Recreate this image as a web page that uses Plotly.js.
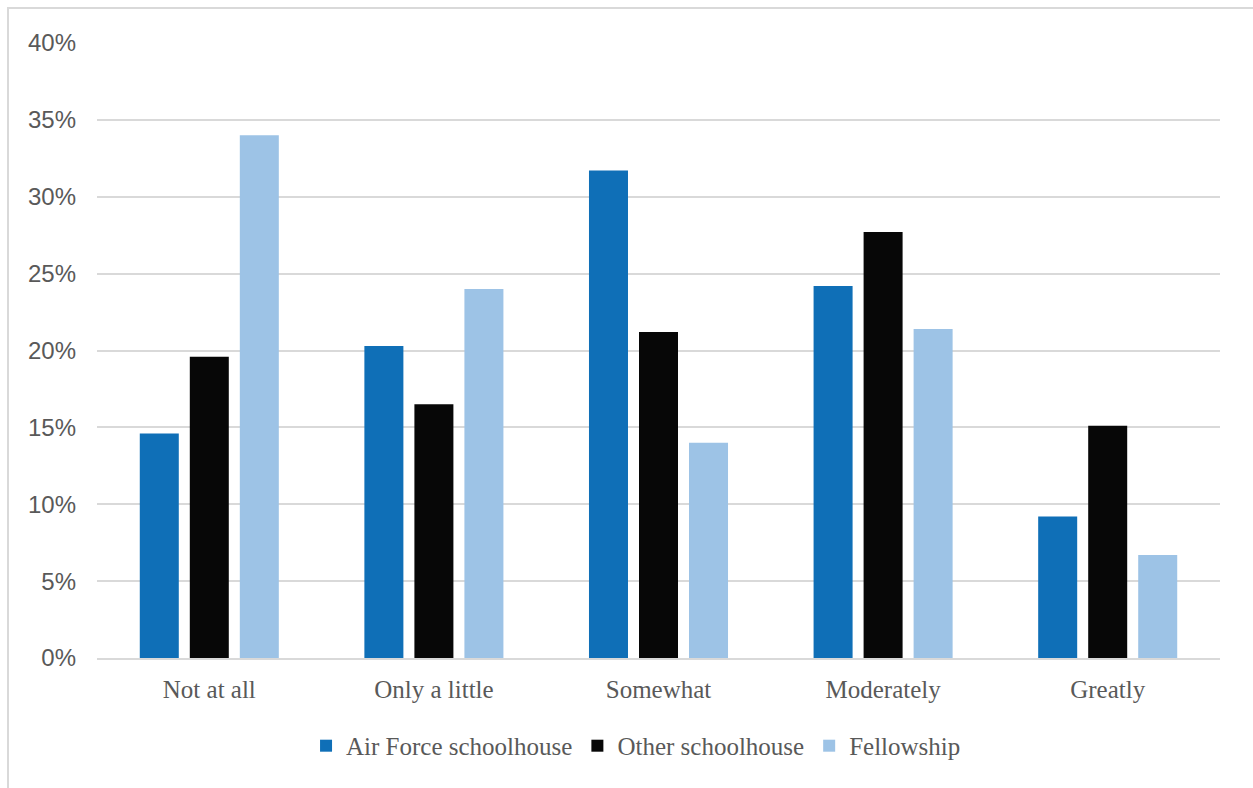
<!DOCTYPE html>
<html>
<head>
<meta charset="utf-8">
<script src="https://cdn.plot.ly/plotly-3.0.1.min.js"></script>
<style>
  html, body { margin: 0; padding: 0; background: #ffffff; }
  #chart { position: absolute; left: 0; top: 0; width: 1253px; height: 788px; }
  #frame { position: absolute; left: 7px; top: 7px; width: 1260px; height: 800px;
           border-left: 2px solid #d9d9d9; border-top: 2px solid #d9d9d9; pointer-events: none; }
</style>
</head>
<body>
<div id="chart"></div>
<div id="frame"></div>
<script>
// Response categories along the x axis
const categories = ["Not at all", "Only a little", "Somewhat", "Moderately", "Greatly"];

// Share of respondents per category (percent)
const airForceSchoolhouse = [14.6, 20.3, 31.7, 24.2, 9.2];
const otherSchoolhouse    = [19.6, 16.5, 21.2, 27.7, 15.1];
const fellowship          = [34.0, 24.0, 14.0, 21.4, 6.7];

const seriesNames = ["Air Force schoolhouse", "Other schoolhouse", "Fellowship"];
const seriesColors = ["#0f6fb7", "#070707", "#9dc3e6"];

// Y axis ticks
const yTickVals = [0, 5, 10, 15, 20, 25, 30, 35, 40];
const yTickText = yTickVals.map(v => v + "%");

const seriesValues = [airForceSchoolhouse, otherSchoolhouse, fellowship];
const traces = seriesValues.map((vals, i) => ({
  type: "bar",
  name: seriesNames[i],
  x: categories,
  y: vals,
  marker: { color: seriesColors[i] },
  hoverinfo: "x+y+name"
}));

const serif = "'Liberation Serif', 'Times New Roman', serif";
const sans = "'Liberation Sans', Arial, sans-serif";

const layout = {
  width: 1253,
  height: 788,
  margin: { l: 97, r: 33, t: 43, b: 130 },
  paper_bgcolor: "#ffffff",
  plot_bgcolor: "#ffffff",
  barmode: "group",
  bargap: 0.332,
  bargroupgap: 0.22,
  showlegend: true,
  legend: {
    orientation: "h",
    x: 0.48, xanchor: "center",
    y: -0.143, yanchor: "middle",
    font: { family: serif, size: 25, color: "#595959" },
    traceorder: "normal"
  },
  xaxis: {
    type: "category",
    showgrid: false,
    showline: true,
    linecolor: "#d9d9d9",
    linewidth: 2,
    ticks: "",
    ticklabelstandoff: 8,
    tickfont: { family: serif, size: 25, color: "#595959" },
    zeroline: false
  },
  yaxis: {
    range: [0, 40],
    tickvals: yTickVals,
    ticktext: yTickText,
    showgrid: true,
    gridcolor: "#d9d9d9",
    gridwidth: 2,
    zeroline: false,
    showline: false,
    ticks: "",
    ticklabelstandoff: 20,
    tickfont: { family: sans, size: 24, color: "#595959" }
  }
};

Plotly.newPlot("chart", traces, layout, { displayModeBar: false, staticPlot: true });
</script>
</body>
</html>
